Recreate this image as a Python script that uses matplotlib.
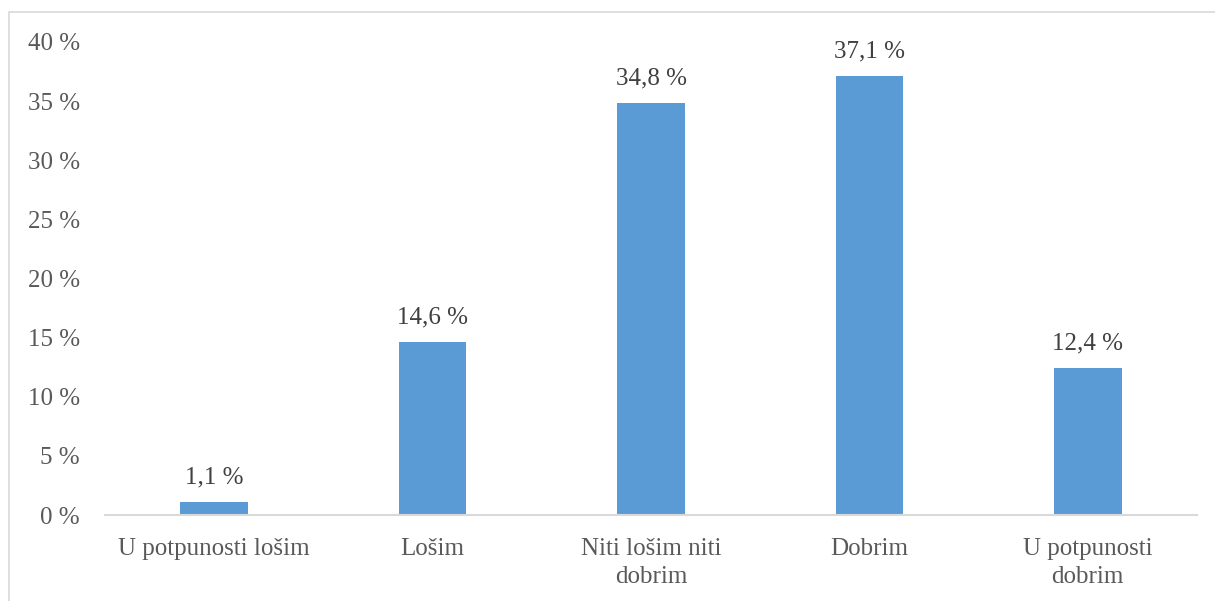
import matplotlib
matplotlib.use("Agg")
import matplotlib.pyplot as plt
from matplotlib.patches import Rectangle

categories = ["U potpunosti lošim", "Lošim", "Niti lošim niti\ndobrim", "Dobrim", "U potpunosti\ndobrim"]
values = [1.1, 14.6, 34.8, 37.1, 12.4]
yticks = [0, 5, 10, 15, 20, 25, 30, 35, 40]

plt.rcParams['font.family'] = ['Liberation Serif', 'DejaVu Serif']
W, H = 1215, 601
fig = plt.figure(figsize=(W/100, H/100), dpi=100)
ax = fig.add_axes([105/W, 1-515/H, (1197-105)/W, (515-42)/H])

txt = '#595959'
x = list(range(len(categories)))
ax.bar(x, values, width=0.31, color='#5b9bd5', zorder=2)
for xi, v in zip(x, values):
    ax.annotate(f"{v:.1f} %".replace('.', ','), (xi, v), xytext=(0, 10), textcoords='offset points',
                ha='center', va='bottom', fontsize=18, color='#404040')

ax.set_xlim(-0.5, len(categories)-0.5)
ax.set_ylim(0, 40)
ax.set_yticks(yticks)
ax.set_yticklabels([f"{t} %" for t in yticks])
ax.set_xticks(x)
ax.set_xticklabels(categories, linespacing=1.38)
ax.tick_params(axis='y', length=0, pad=18, labelsize=18, labelcolor=txt)
ax.tick_params(axis='x', length=0, pad=16.5, labelsize=18, labelcolor=txt)
for s in ['top', 'right', 'left']:
    ax.spines[s].set_visible(False)
ax.spines['bottom'].set_color('#d9d9d9')
ax.spines['bottom'].set_linewidth(1.5)

fig.patches.append(Rectangle((9/W, -0.1), 1.2, 1+0.1-12/H, transform=fig.transFigure,
                             fill=False, edgecolor='#d9d9d9', linewidth=1.2, zorder=0))
fig.savefig('out.png', dpi=100)
